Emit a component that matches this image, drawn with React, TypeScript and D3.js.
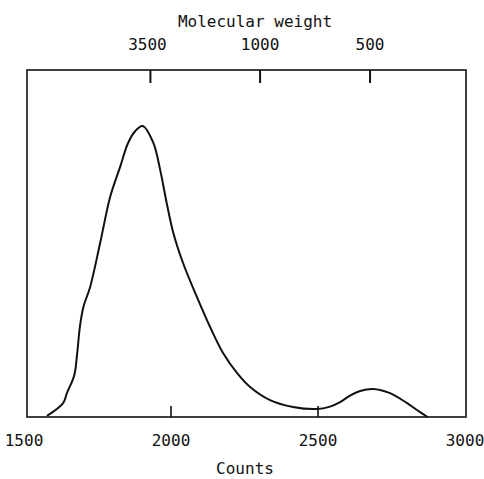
import React from "react";
import * as d3 from "d3";

const counts = [1578, 1633, 1646, 1671, 1681, 1690, 1702, 1725, 1759, 1793, 1827, 1854, 1878, 1904, 1940, 1963, 1985, 2007, 2041, 2088, 2133, 2177, 2225, 2269, 2337, 2415, 2496, 2541, 2575, 2609, 2643, 2687, 2745, 2803, 2847, 2873];
const intensity = [0.3, 4.0, 6.9, 12.1, 18.5, 26, 31.8, 37.6, 50.3, 63.6, 72.3, 79.2, 82.6, 84.1, 79.2, 71.5, 62, 53.5, 44.5, 34.7, 26, 18.5, 12.7, 8.7, 4.9, 2.9, 2.3, 3.0, 4.3, 6.2, 7.5, 8.1, 6.9, 4.0, 1.4, 0];

const bottomLabels = [1500, 2000, 2500, 3000];
const bottomTicks = [2000, 2500];
const mwLabels = ["3500", "1000", "500"];
const mwCountPositions = [1930, 2303, 2677];

const W = 484;
const H = 479;
const boxLeft = 27;
const boxRight = 466;
const boxTop = 70;
const boxBottom = 417;

export default function App() {
  const x = d3.scaleLinear().domain([1500, 3000]).range([24, 465]);
  const y = d3.scaleLinear().domain([0, 100]).range([boxBottom, 71]);
  const data = counts.map((c, i) => [c, intensity[i]] as [number, number]);
  const line = d3
    .line<[number, number]>()
    .x((d) => x(d[0]))
    .y((d) => y(d[1]))
    .curve(d3.curveCatmullRom.alpha(0.5));
  const font = "'DejaVu Sans Mono', monospace";
  const ink = "#111";
  return (
    <svg
      width={W}
      height={H}
      style={{ position: "absolute", left: 0, top: 0, background: "#fff" }}
    >
      <rect x={0} y={0} width={W} height={H} fill="#fff" />
      <rect
        x={boxLeft}
        y={boxTop}
        width={boxRight - boxLeft}
        height={boxBottom - boxTop}
        fill="none"
        stroke={ink}
        strokeWidth={1.6}
      />
      {bottomTicks.map((t) => (
        <line
          key={"bt" + t}
          x1={x(t)}
          x2={x(t)}
          y1={boxBottom}
          y2={boxBottom - 11}
          stroke={ink}
          strokeWidth={1.6}
        />
      ))}
      {bottomLabels.map((t) => (
        <text
          key={"bl" + t}
          x={x(t)}
          y={446}
          textAnchor="middle"
          fontFamily={font}
          fontSize={16}
          fill={ink}
        >
          {t}
        </text>
      ))}
      {mwCountPositions.map((c, i) => (
        <g key={"mw" + i}>
          <line
            x1={x(c)}
            x2={x(c)}
            y1={boxTop}
            y2={boxTop + 13}
            stroke={ink}
            strokeWidth={2}
          />
          <text
            x={x(c) - (i === 0 ? 3 : 0)}
            y={50}
            textAnchor="middle"
            fontFamily={font}
            fontSize={16}
            fill={ink}
          >
            {mwLabels[i]}
          </text>
        </g>
      ))}
      <text
        x={255}
        y={27}
        textAnchor="middle"
        fontFamily={font}
        fontSize={16}
        fill={ink}
      >
        Molecular weight
      </text>
      <text
        x={245}
        y={474}
        textAnchor="middle"
        fontFamily={font}
        fontSize={16}
        fill={ink}
      >
        Counts
      </text>
      <path d={line(data) || ""} fill="none" stroke={ink} strokeWidth={2} />
    </svg>
  );
}
